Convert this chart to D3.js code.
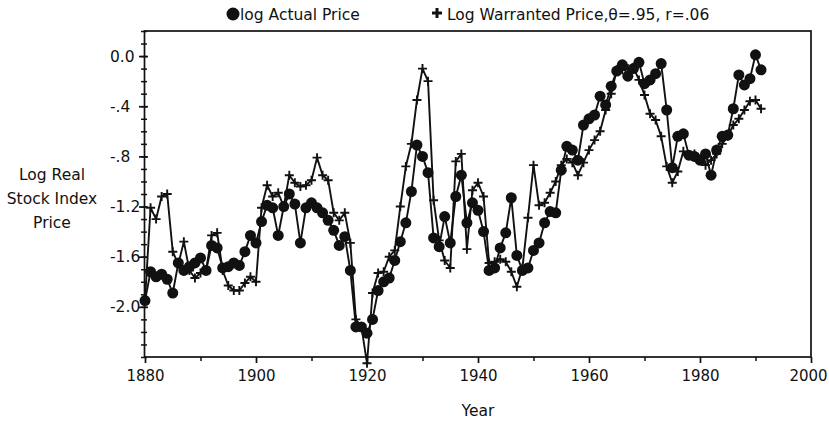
<!DOCTYPE html>
<html><head><meta charset="utf-8">
<script src="https://cdn.jsdelivr.net/npm/d3@7"></script>
<style>
body{margin:0;background:#fff}
text{font-family:"DejaVu Sans",sans-serif;fill:#111}
</style>
</head><body>
<svg id="chart" width="829" height="422"></svg>
<script>
const years = d3.range(1880, 1992);
const actualPrice = [
-1.95,-1.72,-1.76,-1.74,-1.78,-1.89,-1.65,-1.71,-1.68,-1.65,
-1.61,-1.71,-1.51,-1.53,-1.69,-1.68,-1.65,-1.67,-1.56,-1.43,
-1.49,-1.32,-1.19,-1.21,-1.43,-1.20,-1.10,-1.18,-1.49,-1.21,
-1.17,-1.21,-1.25,-1.31,-1.39,-1.51,-1.44,-1.71,-2.16,-2.16,
-2.21,-2.10,-1.87,-1.80,-1.77,-1.63,-1.48,-1.33,-1.08,-0.71,
-0.80,-0.93,-1.45,-1.52,-1.28,-1.49,-1.12,-0.95,-1.33,-1.17,
-1.23,-1.40,-1.71,-1.69,-1.53,-1.41,-1.13,-1.59,-1.71,-1.69,
-1.55,-1.49,-1.33,-1.24,-1.25,-0.91,-0.72,-0.75,-0.83,-0.55,
-0.50,-0.47,-0.32,-0.39,-0.24,-0.12,-0.07,-0.16,-0.10,-0.05,
-0.22,-0.19,-0.14,-0.06,-0.43,-0.89,-0.64,-0.62,-0.79,-0.80,
-0.83,-0.78,-0.95,-0.75,-0.64,-0.63,-0.42,-0.15,-0.23,-0.18,
0.01,-0.11];
const warrantedPrice = [
-1.95,-1.21,-1.30,-1.12,-1.10,-1.56,-1.66,-1.48,-1.71,-1.77,
-1.73,-1.71,-1.43,-1.41,-1.71,-1.83,-1.87,-1.87,-1.81,-1.76,
-1.80,-1.21,-1.03,-1.12,-1.09,-1.20,-0.95,-1.01,-1.04,-1.03,
-0.99,-0.81,-0.95,-0.99,-1.25,-1.31,-1.25,-1.49,-2.10,-2.16,
-2.45,-1.89,-1.73,-1.72,-1.60,-1.55,-1.20,-0.88,-0.70,-0.35,
-0.10,-0.20,-1.15,-1.47,-1.63,-1.69,-0.84,-0.78,-1.54,-1.07,
-1.01,-1.12,-1.65,-1.64,-1.62,-1.64,-1.72,-1.84,-1.69,-1.29,
-0.87,-1.19,-1.17,-1.09,-1.00,-0.87,-0.82,-0.85,-0.95,-0.85,
-0.75,-0.67,-0.60,-0.43,-0.30,-0.11,-0.11,-0.10,-0.09,-0.19,
-0.31,-0.46,-0.51,-0.64,-0.88,-1.01,-0.92,-0.76,-0.79,-0.78,
-0.82,-0.87,-0.83,-0.78,-0.70,-0.64,-0.55,-0.50,-0.43,-0.36,
-0.35,-0.42];
const yTickValues = [0, -0.4, -0.8, -1.2, -1.6, -2.0];
const yTickLabels = ["0.0", "-.4", "-.8", "-1.2", "-1.6", "-2.0"];
const xTickValues = [1880, 1900, 1920, 1940, 1960, 1980, 2000];
const seriesNames = ["log Actual Price", "Log Warranted Price,\u03b8=.95, r=.06"];
const yTitleLines = ["Log Real", "Stock Index", "Price"];

const svg = d3.select("#chart");
const x = d3.scaleLinear().domain([1880, 2000]).range([145, 811]);
const y = d3.scaleLinear().domain([-2.4, 0.2]).range([357, 31]);
const ink = "#111";

// box
svg.append("rect").attr("x", x(1880) - 0.5).attr("y", y(0.2)).attr("width", x(2000) - x(1880) + 0.5)
  .attr("height", y(-2.4) - y(0.2)).attr("fill", "none").attr("stroke", ink).attr("stroke-width", 1.7);

// y axis minor ticks
const yMinor = svg.append("g").attr("transform", `translate(${x(1880)},0)`)
  .call(d3.axisLeft(y).tickValues(y.ticks(26)).tickSize(4).tickFormat(""));
yMinor.select(".domain").remove();
yMinor.selectAll("line").attr("x1", 2).attr("stroke", ink).attr("stroke-width", 1.5);
// y major ticks, labels left-aligned as in the original
const yMajor = svg.append("g").attr("transform", `translate(${x(1880)},0)`)
  .call(d3.axisLeft(y).tickValues(yTickValues).tickSize(6).tickPadding(1)
    .tickFormat((d, i) => yTickLabels[i]));
yMajor.select(".domain").remove();
yMajor.selectAll("line").attr("x1", 3).attr("stroke", ink).attr("stroke-width", 1.7);
yMajor.selectAll("text").attr("font-size", 15.5).attr("font-family", "DejaVu Sans").attr("fill", ink)
  .attr("text-anchor", "start").attr("x", 110 - x(1880));

// x axis
const xMinor = svg.append("g").attr("transform", `translate(0,${y(-2.4)})`)
  .call(d3.axisBottom(x).tickValues(d3.range(1890, 2000, 20)).tickSize(4).tickFormat(""));
xMinor.select(".domain").remove();
xMinor.selectAll("line").attr("stroke", ink).attr("stroke-width", 1.5);
const xMajor = svg.append("g").attr("transform", `translate(0,${y(-2.4)})`)
  .call(d3.axisBottom(x).tickValues(xTickValues).tickSize(6).tickPadding(7).tickFormat(d3.format("d")));
xMajor.select(".domain").remove();
xMajor.selectAll("line").attr("stroke", ink).attr("stroke-width", 1.7);
xMajor.selectAll("text").attr("font-size", 15).attr("font-family", "DejaVu Sans").attr("fill", ink)
  .attr("dx", d => d === 2000 ? -3 : 0);

// titles
svg.append("text").attr("x", 478).attr("y", 416).attr("text-anchor", "middle")
  .attr("font-size", 15.5).text("Year");
const yt = svg.append("text").attr("text-anchor", "middle").attr("font-size", 15.5);
yTitleLines.forEach((t, i) => yt.append("tspan").attr("x", 52).attr("y", 180 + i * 24).text(t));

// lines
const line = d3.line().x((d, i) => x(years[i])).y(d => y(d));
svg.append("path").datum(warrantedPrice).attr("d", line).attr("fill", "none")
  .attr("stroke", ink).attr("stroke-width", 1.9).attr("stroke-linejoin", "round");
svg.append("path").datum(actualPrice).attr("d", line).attr("fill", "none")
  .attr("stroke", ink).attr("stroke-width", 1.9).attr("stroke-linejoin", "round");

// plus markers
const plusPath = s => `M${-s},0H${s}M0,${-s}V${s}`;
svg.append("g").selectAll("path").data(warrantedPrice).join("path")
  .attr("transform", (d, i) => `translate(${x(years[i])},${y(d)})`)
  .attr("d", plusPath(4.5)).attr("stroke", ink).attr("stroke-width", 1.9).attr("fill", "none");

// circle markers
svg.append("g").selectAll("circle").data(actualPrice).join("circle")
  .attr("cx", (d, i) => x(years[i])).attr("cy", d => y(d)).attr("r", 5.5).attr("fill", ink);

// legend
const lg = svg.append("g");
lg.append("circle").attr("cx", 233).attr("cy", 14).attr("r", 6.5).attr("fill", ink);
lg.append("text").attr("x", 240).attr("y", 19.5).attr("font-size", 15.5).text(seriesNames[0]);
lg.append("path").attr("transform", "translate(437,13)").attr("d", plusPath(5))
  .attr("stroke", ink).attr("stroke-width", 3);
lg.append("text").attr("x", 447).attr("y", 19.5).attr("font-size", 15.5).text(seriesNames[1]);
</script>
</body></html>
